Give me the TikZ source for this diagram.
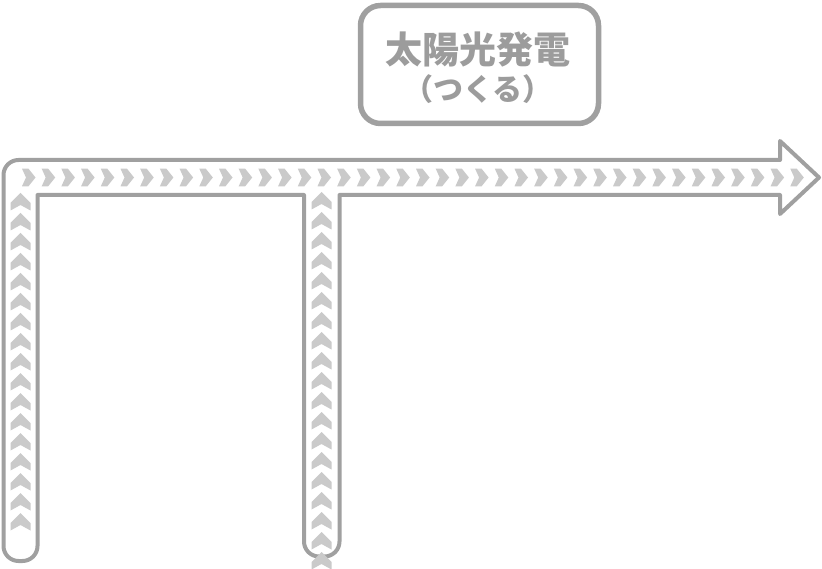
\documentclass[tikz,border=0pt]{standalone}
\usepackage{fontspec}
\newfontfamily\cjk{Noto Sans CJK JP}
\definecolor{linegray}{HTML}{A0A0A0}
\definecolor{chevgray}{HTML}{CACACA}
\definecolor{textgray}{HTML}{9C9C9C}
\tikzset{
  pipe/.style={draw=linegray, line width=4, line join=round, fill=white},
  chev/.style={fill=chevgray},
  box/.style={draw=linegray, line width=5.5, rounded corners=20, fill=white,
    minimum width=238, minimum height=118},
  lbl/.style={text=textgray, inner sep=0, font=\cjk\bfseries},
}
\begin{document}
\begin{tikzpicture}[x=1pt,y=-1pt]
\useasboundingbox (0,0) rectangle (822,569);
% pipe outline
\draw[pipe] (37.5,195) -- (37.5,546)
  arc[start angle=0, end angle=90, radius=15] -- (18.5,561)
  arc[start angle=90, end angle=180, radius=15] -- (3.5,175)
  arc[start angle=180, end angle=270, radius=15] -- (780,160)
  -- (780,141) -- (819,177.5) -- (780,214) -- (780,195)
  -- (339.5,195) -- (339.5,541.5)
  arc[start angle=0, end angle=90, radius=15] -- (319,556.5)
  arc[start angle=90, end angle=180, radius=15] -- (304,195) -- cycle;
% horizontal chevrons
\foreach \i in {0,...,39}
  \fill[chev] ({22+19.7*\i},168.7) -- ++(6.5,0) -- ++(7,8.8) -- ++(-7,8.8)
     -- ++(-6.5,0) -- ++(4,-8.8) -- cycle;
% left pipe chevrons
\foreach \i in {0,...,16}
  \fill[chev] (20.5,{193+20*\i}) -- ++(10,10) -- ++(0,7.5) -- ++(-10,-5.5)
     -- ++(-10,5.5) -- ++(0,-7.5) -- cycle;
% middle pipe chevrons
\foreach \i in {0,...,18}
  \fill[chev] (321.5,{192+20*\i}) -- ++(10,10) -- ++(0,7.5) -- ++(-10,-5.5)
     -- ++(-10,5.5) -- ++(0,-7.5) -- cycle;
% label box
\node[box] (solar) at (479.5,64.5) {};
\node[lbl, font=\cjk\bfseries\fontsize{37}{40}\selectfont] (t1) at (478,50) {太陽光発電};
\node[lbl, font=\cjk\bfseries\fontsize{30}{34}\selectfont] (t2) at (478,89) {（つくる）};
\end{tikzpicture}
\end{document}
